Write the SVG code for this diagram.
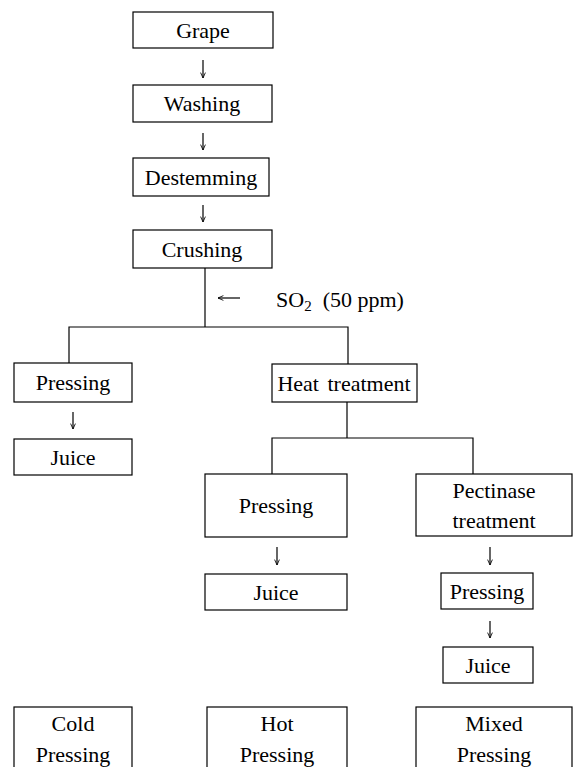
<svg xmlns="http://www.w3.org/2000/svg" width="574" height="767" viewBox="0 0 574 767">
<defs>
<marker id="ah" viewBox="0 0 10 10" refX="10" refY="5" markerWidth="6" markerHeight="6" orient="auto" markerUnits="userSpaceOnUse">
<path d="M1,1 L10,5 L1,9" fill="none" stroke="#000" stroke-width="1.4"/>
</marker>
<style>
rect{fill:#fff;stroke:#000;stroke-width:1.2}
text{font-family:"Liberation Serif","Times New Roman",serif;font-size:22px;fill:#000;text-anchor:middle}
.c line,.c path{stroke:#000;stroke-width:1.2;fill:none}
.a{marker-end:url(#ah)}
</style>
</defs>
<rect x="0" y="0" width="574" height="767" style="fill:#fff;stroke:none"/>
<g class="c" id="connectors">
<line class="a" x1="203" y1="60" x2="203" y2="78"/>
<line class="a" x1="203" y1="133" x2="203" y2="150"/>
<line class="a" x1="203" y1="205" x2="203" y2="222"/>
<line x1="205" y1="268" x2="205" y2="327"/>
<line class="a" x1="240" y1="298" x2="218" y2="298"/>
<path d="M69,363 V327 H348 V364"/>
<line class="a" x1="73" y1="412" x2="73" y2="429"/>
<line x1="347" y1="402" x2="347" y2="438"/>
<path d="M272,474 V438 H473 V474"/>
<line class="a" x1="277" y1="547" x2="277" y2="565"/>
<line class="a" x1="490" y1="547" x2="490" y2="565"/>
<line class="a" x1="490" y1="621" x2="490" y2="638"/>
</g>
<g id="grape"><rect x="133" y="12" width="140" height="36"/><text x="203" y="38">Grape</text></g>
<g id="washing"><rect x="133" y="85" width="139" height="37"/><text x="202" y="111">Washing</text></g>
<g id="destemming"><rect x="133" y="158" width="136" height="38"/><text x="201" y="185">Destemming</text></g>
<g id="crushing"><rect x="133" y="230" width="139" height="38"/><text x="202" y="257">Crushing</text></g>
<g id="so2"><text x="276" y="307" style="text-anchor:start;white-space:pre">SO<tspan font-size="15" dy="4">2</tspan><tspan dy="-4" style="white-space:pre">  (50 ppm)</tspan></text></g>
<g id="pressing-cold"><rect x="14" y="363" width="118" height="39"/><text x="73" y="390">Pressing</text></g>
<g id="juice-cold"><rect x="14" y="439" width="118" height="36"/><text x="73" y="465">Juice</text></g>
<g id="heat"><rect x="272" y="364" width="145" height="38"/><text x="344" y="391" style="word-spacing:3px">Heat treatment</text></g>
<g id="pressing-hot"><rect x="205" y="474" width="142" height="63"/><text x="276" y="513">Pressing</text></g>
<g id="pectinase"><rect x="416" y="474" width="156" height="62"/><text x="494" y="498">Pectinase</text><text x="494" y="528">treatment</text></g>
<g id="juice-hot"><rect x="205" y="574" width="142" height="36"/><text x="276" y="600">Juice</text></g>
<g id="pressing-mixed"><rect x="441" y="573" width="92" height="36"/><text x="487" y="599">Pressing</text></g>
<g id="juice-mixed"><rect x="443" y="647" width="90" height="36"/><text x="488" y="673">Juice</text></g>
<g id="cold"><rect x="14" y="707" width="118" height="70"/><text x="73" y="731">Cold</text><text x="73" y="762">Pressing</text></g>
<g id="hot"><rect x="207" y="707" width="140" height="70"/><text x="277" y="731">Hot</text><text x="277" y="762">Pressing</text></g>
<g id="mixed"><rect x="416" y="707" width="156" height="70"/><text x="494" y="731">Mixed</text><text x="494" y="762">Pressing</text></g>
</svg>
